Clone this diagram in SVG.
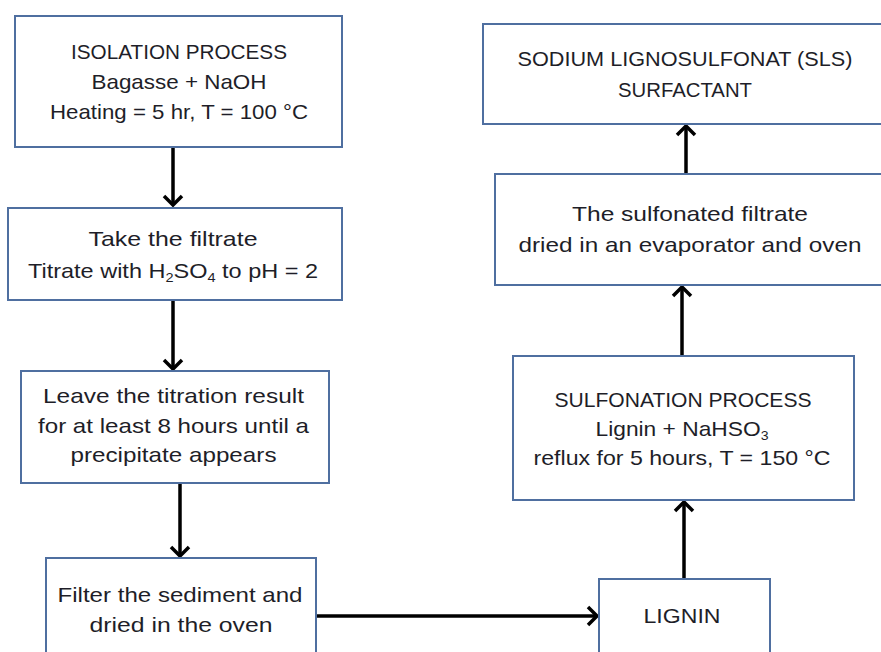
<svg xmlns="http://www.w3.org/2000/svg" width="881" height="652" viewBox="0 0 881 652">
<defs>
<style>
.box{fill:#ffffff;stroke:#4f6fa0;stroke-width:2}
.t{font-family:"Liberation Sans",Arial,sans-serif;font-size:21px;fill:#1e1e28;text-anchor:middle}
.sub{font-size:13px}
.c{fill:none;stroke:#000000;stroke-width:3.5;marker-end:url(#ah)}
</style>
<marker id="ah" markerUnits="userSpaceOnUse" markerWidth="22" markerHeight="22" viewBox="0 0 22 22" refX="19" refY="11" orient="auto">
<path d="M10,2 L19,11 L10,20" fill="none" stroke="#000000" stroke-width="3.5" stroke-linejoin="miter"/>
</marker>
</defs>
<rect width="881" height="652" fill="#ffffff"/>
<g id="connectors">
<line class="c" x1="173" y1="147" x2="173" y2="205"/>
<line class="c" x1="173" y1="300" x2="173" y2="369"/>
<line class="c" x1="180" y1="483" x2="180" y2="556"/>
<line class="c" x1="316" y1="616" x2="597" y2="616"/>
<line class="c" x1="684" y1="579" x2="684" y2="502"/>
<line class="c" x1="682" y1="356" x2="682" y2="287"/>
<line class="c" x1="686" y1="174" x2="686" y2="126"/>
</g>
<g id="isolation">
<rect class="box" x="15" y="16" width="327" height="131"/>
<text class="t" x="179" y="59" textLength="216" lengthAdjust="spacingAndGlyphs">ISOLATION PROCESS</text>
<text class="t" x="179" y="89" textLength="175" lengthAdjust="spacingAndGlyphs">Bagasse + NaOH</text>
<text class="t" x="179" y="119" textLength="258" lengthAdjust="spacingAndGlyphs">Heating = 5 hr, T = 100 °C</text>
</g>
<g id="filtrate">
<rect class="box" x="8" y="208" width="334" height="92"/>
<text class="t" x="173" y="246" textLength="169" lengthAdjust="spacingAndGlyphs">Take the filtrate</text>
<text class="t" x="173" y="278" textLength="290" lengthAdjust="spacingAndGlyphs">Titrate with H<tspan class="sub" dy="4">2</tspan><tspan dy="-4">SO</tspan><tspan class="sub" dy="4">4</tspan><tspan dy="-4"> to pH = 2</tspan></text>
</g>
<g id="leave">
<rect class="box" x="21" y="371" width="308" height="112"/>
<text class="t" x="173.5" y="403" textLength="261" lengthAdjust="spacingAndGlyphs">Leave the titration result</text>
<text class="t" x="173.5" y="433" textLength="271" lengthAdjust="spacingAndGlyphs">for at least 8 hours until a</text>
<text class="t" x="173.5" y="462" textLength="206" lengthAdjust="spacingAndGlyphs">precipitate appears</text>
</g>
<g id="filter">
<rect class="box" x="46" y="558" width="270" height="110"/>
<text class="t" x="180" y="602" textLength="245" lengthAdjust="spacingAndGlyphs">Filter the sediment and</text>
<text class="t" x="181" y="632" textLength="183" lengthAdjust="spacingAndGlyphs">dried in the oven</text>
</g>
<g id="lignin">
<rect class="box" x="599" y="579" width="171" height="90"/>
<text class="t" x="682" y="623" textLength="77" lengthAdjust="spacingAndGlyphs">LIGNIN</text>
</g>
<g id="sulfonation">
<rect class="box" x="513" y="356" width="341" height="144"/>
<text class="t" x="683" y="407" textLength="257" lengthAdjust="spacingAndGlyphs">SULFONATION PROCESS</text>
<text class="t" x="682" y="436" textLength="173" lengthAdjust="spacingAndGlyphs">Lignin + NaHSO<tspan class="sub" dy="4">3</tspan></text>
<text class="t" x="682" y="465" textLength="297" lengthAdjust="spacingAndGlyphs">reflux for 5 hours, T = 150 °C</text>
</g>
<g id="dried">
<rect class="box" x="495" y="174" width="395" height="111"/>
<text class="t" x="690" y="221" textLength="236" lengthAdjust="spacingAndGlyphs">The sulfonated filtrate</text>
<text class="t" x="690" y="252" textLength="343" lengthAdjust="spacingAndGlyphs">dried in an evaporator and oven</text>
</g>
<g id="sls">
<rect class="box" x="483" y="24" width="407" height="100"/>
<text class="t" x="685" y="66" textLength="335" lengthAdjust="spacingAndGlyphs">SODIUM LIGNOSULFONAT (SLS)</text>
<text class="t" x="685" y="97" textLength="134" lengthAdjust="spacingAndGlyphs">SURFACTANT</text>
</g>
</svg>
